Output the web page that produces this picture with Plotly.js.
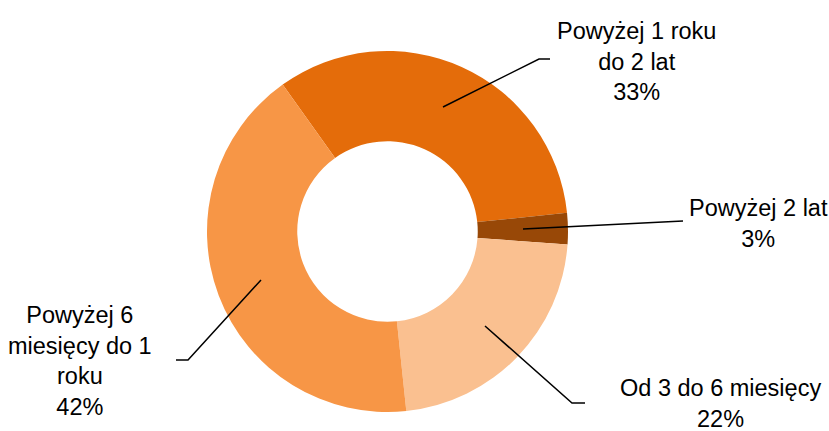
<!DOCTYPE html>
<html>
<head>
<meta charset="utf-8">
<script src="https://cdn.plot.ly/plotly-3.0.1.min.js"></script>
<style>html,body{margin:0;padding:0;background:#fff;}#chart{width:829px;height:431px;}</style>
</head>
<body>
<div id="chart"></div>
<script>
// Data
const categories = ["Powyżej 1 roku<br>do 2 lat", "Powyżej 2 lat", "Od 3 do 6 miesięcy", "Powyżej 6<br>miesięcy do 1<br>roku"];
const shares = [33.2, 2.8, 22.2, 41.8];
const colors = ["#E46C0A", "#984807", "#FAC090", "#F79646"];

const W = 829, H = 431;
function px(x) { return x / W; }
function py(y) { return 1 - y / H; }

const total = shares.reduce((a, b) => a + b, 0);
const pctText = shares.map(v => Math.round(v / total * 100) + "%");

// label positions (pixel centres) and leader line paths (layout decoration)
const labelPos = [[636, 61], [758, 223], [720, 403], [80, 361]];
const leaders = [
  [[443, 107], [539, 59], [550, 59]],
  [[523, 229], [683, 221]],
  [[485, 326], [572, 403], [585, 403]],
  [[261, 280], [188, 360], [176, 360]]
];

const trace = {
  type: "pie",
  values: shares,
  labels: categories,
  marker: { colors: colors, line: { width: 0 } },
  hole: 0.5,
  sort: false,
  direction: "clockwise",
  rotation: -35.5,
  textinfo: "none",
  hoverinfo: "label+percent",
  domain: { x: [px(207), px(568)], y: [py(412), py(51)] },
  showlegend: false
};

const annotations = categories.map((c, i) => ({
  xref: "paper", yref: "paper",
  x: px(labelPos[i][0]), y: py(labelPos[i][1]),
  xanchor: "center", yanchor: "middle",
  text: c + "<br>" + pctText[i],
  showarrow: false,
  align: "center",
  font: { family: "Liberation Sans, Arial, sans-serif", size: 23.5, color: "#000" }
}));

const shapes = leaders.map(pts => ({
  type: "path",
  xref: "paper", yref: "paper",
  path: pts.map((p, j) => (j === 0 ? "M" : "L") + px(p[0]) + "," + py(p[1])).join(" "),
  line: { color: "#000", width: 1.5 }
}));

const layout = {
  width: W, height: H,
  margin: { l: 0, r: 0, t: 0, b: 0 },
  paper_bgcolor: "#fff",
  plot_bgcolor: "#fff",
  showlegend: false,
  annotations: annotations,
  shapes: shapes
};

Plotly.newPlot("chart", [trace], layout, { displayModeBar: false, staticPlot: true });
</script>
</body>
</html>
